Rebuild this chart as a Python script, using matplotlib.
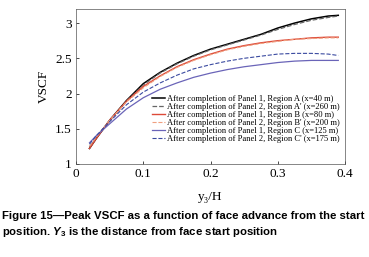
import matplotlib.pyplot as plt

y3_h = [0.02, 0.03, 0.05, 0.075, 0.1, 0.125, 0.15, 0.175, 0.2, 0.225, 0.25,
        0.275, 0.3, 0.325, 0.35, 0.375, 0.39]
region_a = [1.22, 1.36, 1.62, 1.90, 2.14, 2.30, 2.43, 2.54, 2.63, 2.70, 2.77,
            2.84, 2.93, 3.00, 3.06, 3.10, 3.11]
region_a2 = [1.24, 1.37, 1.62, 1.89, 2.12, 2.29, 2.42, 2.53, 2.62, 2.69, 2.76,
             2.83, 2.91, 2.98, 3.04, 3.08, 3.10]
region_b = [1.22, 1.36, 1.62, 1.89, 2.10, 2.25, 2.38, 2.48, 2.56, 2.63, 2.68,
            2.72, 2.75, 2.77, 2.79, 2.80, 2.80]
region_b2 = [1.25, 1.38, 1.62, 1.88, 2.08, 2.24, 2.37, 2.47, 2.55, 2.62, 2.67,
             2.71, 2.74, 2.77, 2.78, 2.79, 2.79]
region_c = [1.30, 1.40, 1.57, 1.78, 1.94, 2.06, 2.15, 2.23, 2.29, 2.34, 2.38,
            2.41, 2.44, 2.46, 2.47, 2.47, 2.47]
region_c2 = [1.28, 1.40, 1.60, 1.84, 2.02, 2.15, 2.26, 2.35, 2.41, 2.46, 2.50,
             2.53, 2.56, 2.57, 2.57, 2.56, 2.54]

labels = ["After completion of Panel 1, Region A (x=40 m)",
          "After completion of Panel 2, Region A' (x=260 m)",
          "After completion of Panel 1, Region B (x=80 m)",
          "After completion of Panel 2, Region B' (x=200 m)",
          "After completion of Panel 1, Region C (x=125 m)",
          "After completion of Panel 2, Region C' (x=175 m)"]

plt.rcParams['mathtext.fontset'] = 'custom'
plt.rcParams['mathtext.rm'] = 'Liberation Sans'
plt.rcParams['mathtext.it'] = 'Liberation Sans:italic'
plt.rcParams['mathtext.bf'] = 'Liberation Sans:bold'
plt.rcParams['mathtext.bfit'] = 'Liberation Sans:italic:bold'

fig = plt.figure(figsize=(3.69, 2.57), dpi=100)
ax = fig.add_axes([0.206, 0.362, 0.729, 0.603])

serif = 'Liberation Serif'
ax.plot(y3_h, region_a, color='black', lw=1.1, label=labels[0])
ax.plot(y3_h, region_a2, color='#666666', lw=0.9, ls='--', label=labels[1])
ax.plot(y3_h, region_b, color='#dd4a38', lw=1.0, label=labels[2])
ax.plot(y3_h, region_b2, color='#f0a080', lw=0.8, ls='--', label=labels[3])
ax.plot(y3_h, region_c, color='#6a64b8', lw=0.9, label=labels[4])
ax.plot(y3_h, region_c2, color='#3a4aa0', lw=0.8, ls='--', label=labels[5])

ax.set_xlim(0, 0.4)
ax.set_ylim(1, 3.2)
ax.set_xticks([0, 0.1, 0.2, 0.3, 0.4])
ax.set_xticklabels(['0', '0.1', '0.2', '0.3', '0.4'])
ax.set_yticks([1, 1.5, 2, 2.5, 3])
ax.set_yticklabels(['1', '1.5', '2', '2.5', '3'])
ax.tick_params(direction='in', length=2.5, width=0.5, labelsize=9.5, pad=3)
for lab in ax.get_xticklabels() + ax.get_yticklabels():
    lab.set_fontfamily(serif)
for s in ax.spines.values():
    s.set_linewidth(0.5)
    s.set_color('#555555')

ax.set_ylabel('VSCF', fontfamily=serif, fontsize=9.5, labelpad=4)
ax.set_xlabel('y\u2083/H', fontfamily=serif, fontsize=9.5, labelpad=8)

leg = ax.legend(loc='lower right', bbox_to_anchor=(1.0, 0.1), frameon=False,
                prop={'family': serif, 'size': 6.1}, handlelength=1.6,
                handletextpad=0.2, labelspacing=0.0, borderaxespad=0.2)

fig.text(0.006, 0.16, "Figure 15\u2014Peak VSCF as a function of face advance from the start",
         fontfamily='Liberation Sans', fontweight='bold', fontsize=8.2, va='center')
fig.text(0.006, 0.097, "position. $\\mathbfit{Y}_{\\mathbf{3}}$ is the distance from face start position",
         fontfamily='Liberation Sans', fontweight='bold', fontsize=8.2, va='center')

fig.savefig('out.png', dpi=100)
